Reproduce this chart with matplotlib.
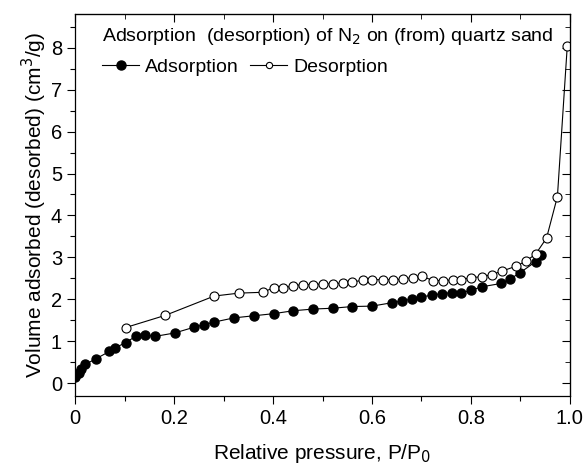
import matplotlib
matplotlib.use('Agg')
import matplotlib.pyplot as plt
from matplotlib.ticker import MultipleLocator

plt.rcParams['font.family'] = ['Liberation Sans', 'DejaVu Sans']

# adsorption branch (filled circles)
ads_x = [0.0, 0.007, 0.012, 0.02, 0.041, 0.069, 0.081, 0.102, 0.122, 0.141,
         0.162, 0.201, 0.241, 0.261, 0.281, 0.321, 0.361, 0.401, 0.441, 0.481,
         0.521, 0.560, 0.600, 0.640, 0.660, 0.680, 0.700, 0.721, 0.741, 0.761,
         0.781, 0.801, 0.822, 0.861, 0.880, 0.900, 0.931, 0.941]
ads_y = [0.15, 0.25, 0.35, 0.45, 0.58, 0.76, 0.85, 0.97, 1.12, 1.15,
         1.12, 1.20, 1.34, 1.40, 1.46, 1.56, 1.61, 1.66, 1.73, 1.77,
         1.79, 1.83, 1.84, 1.92, 1.96, 2.01, 2.06, 2.10, 2.14, 2.16,
         2.16, 2.22, 2.30, 2.38, 2.49, 2.64, 2.90, 3.05]

# desorption branch (open circles)
des_x = [0.102, 0.182, 0.281, 0.331, 0.380, 0.401, 0.421, 0.441, 0.461, 0.481,
         0.501, 0.521, 0.541, 0.560, 0.581, 0.601, 0.622, 0.642, 0.662, 0.682,
         0.702, 0.723, 0.743, 0.763, 0.781, 0.801, 0.822, 0.842, 0.862, 0.891,
         0.911, 0.931, 0.953, 0.975, 0.995]
des_y = [1.33, 1.62, 2.08, 2.15, 2.17, 2.28, 2.27, 2.33, 2.35, 2.35,
         2.37, 2.37, 2.39, 2.41, 2.46, 2.47, 2.47, 2.47, 2.48, 2.52,
         2.55, 2.45, 2.45, 2.46, 2.47, 2.52, 2.54, 2.59, 2.67, 2.79,
         2.91, 3.08, 3.46, 4.45, 8.05]

fig = plt.figure(figsize=(5.88, 4.68), dpi=100)
ax = fig.add_axes([0.128, 0.154, 0.841, 0.816])

ax.plot(ads_x, ads_y, '-', color='black', lw=0.8, marker='o', ms=6.5,
        mfc='black', mec='black', label='Adsorption')
ax.plot(des_x, des_y, '-', color='black', lw=0.8, marker='o', ms=6.5,
        mfc='white', mec='black', mew=0.8, label='Desorption')

ax.set_xlim(0, 1.0)
ax.set_ylim(-0.3, 8.8)
ax.set_xticks([0, 0.2, 0.4, 0.6, 0.8, 1.0])
ax.set_xticklabels(['0', '0.2', '0.4', '0.6', '0.8', '1.0'])
ax.set_yticks(range(0, 9))
ax.xaxis.set_minor_locator(MultipleLocator(0.1))
ax.yaxis.set_minor_locator(MultipleLocator(0.5))
ax.tick_params(which='major', direction='out', length=6, width=0.8, labelsize=14.5)
ax.tick_params(which='minor', direction='out', length=3.5, width=0.8)
for s in ax.spines.values():
    s.set_linewidth(0.9)

top = ax.secondary_xaxis('top')
top.set_xticks([0, 0.2, 0.4, 0.6, 0.8, 1.0])
top.xaxis.set_minor_locator(MultipleLocator(0.1))
top.tick_params(which='both', direction='in', labeltop=False)
top.tick_params(which='major', length=6)
top.tick_params(which='minor', length=3.5)
right = ax.secondary_yaxis('right')
right.set_yticks(range(0, 9))
right.yaxis.set_minor_locator(MultipleLocator(0.5))
right.tick_params(which='both', direction='in', labelright=False)
right.tick_params(which='major', length=6)
right.tick_params(which='minor', length=3.5)

ax.set_xlabel('Relative pressure, P/P$_0$', fontsize=15, labelpad=10)
ax.set_ylabel('Volume adsorbed (desorbed) (cm$^3$/g)', fontsize=15, labelpad=1)

leg = ax.legend(loc='upper left', ncol=2, frameon=False, fontsize=14,
                title='Adsorption  (desorption) of N$_2$ on (from) quartz sand',
                title_fontsize=14, handlelength=1.9, handletextpad=0.3,
                columnspacing=0.6, bbox_to_anchor=(0.035, 0.995), borderaxespad=0.1,
                labelspacing=0.6)
leg._legend_box.align = 'left'
leg.legend_handles[1].set_markersize(4.5)

fig.savefig('out.png', dpi=100)
